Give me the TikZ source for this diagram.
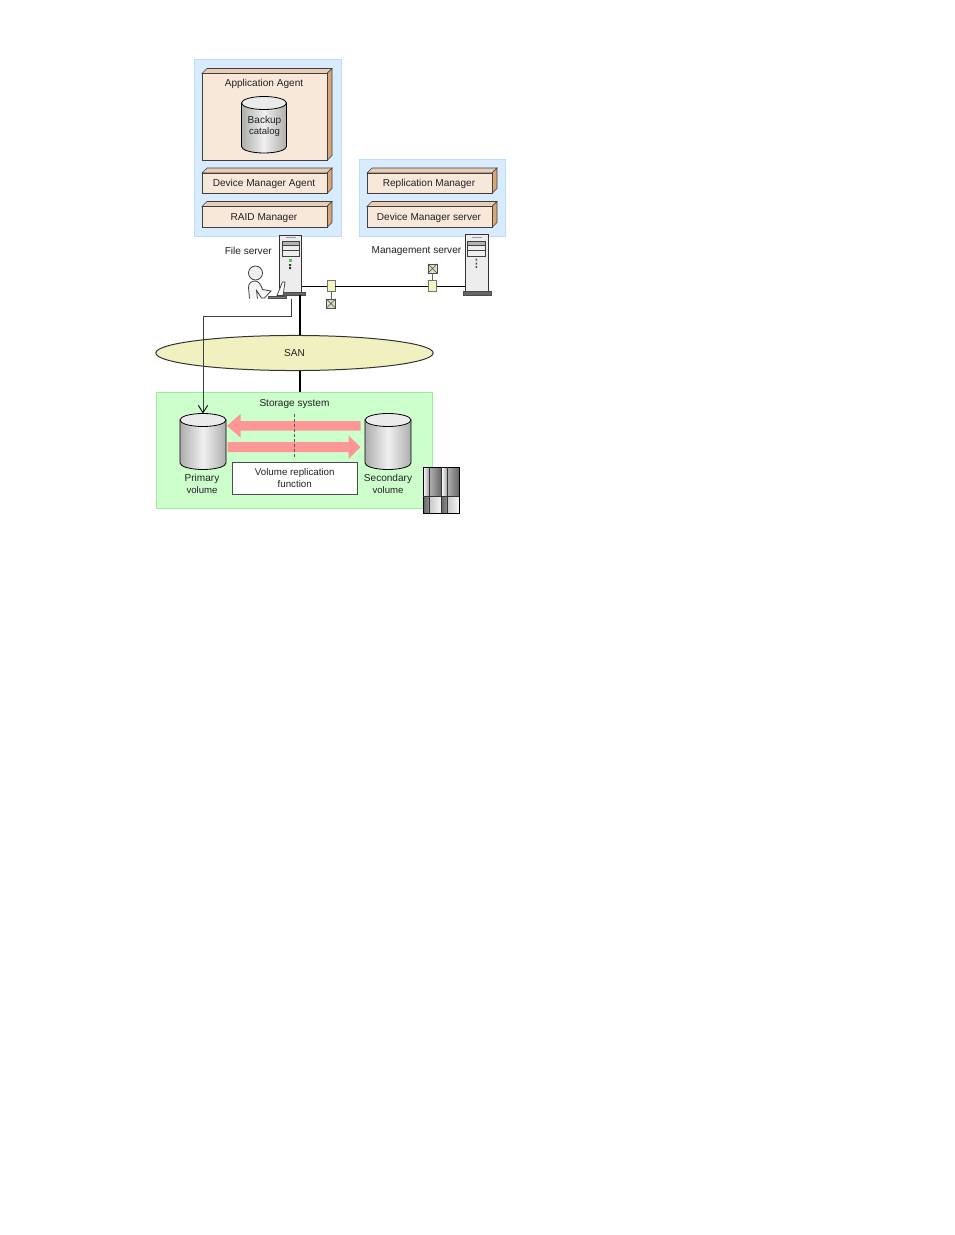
\documentclass[tikz,border=0pt]{standalone}
\usepackage{fontspec}
\setmainfont{Liberation Sans}
\usetikzlibrary{shapes.geometric,arrows.meta,calc}
\definecolor{zoneblue}{HTML}{D9ECFF}
\definecolor{zoneblueedge}{HTML}{BBDDFF}
\definecolor{zonegreen}{HTML}{CCFFCC}
\definecolor{zonegreenedge}{HTML}{99EE99}
\definecolor{boxfront}{HTML}{F8E8DA}
\definecolor{boxtop}{HTML}{E8CDB4}
\definecolor{boxside}{HTML}{D9A679}
\definecolor{sanfill}{HTML}{F0F0C0}
\definecolor{pinkarrow}{HTML}{FF9696}
\definecolor{hubfill}{HTML}{F5F5BE}
\definecolor{xfill}{HTML}{D8E0C0}
\definecolor{txt}{HTML}{222222}
\tikzset{
  x=0.75pt,y=-0.75pt,
  every node/.style={font=\fontsize{7.55}{9.2}\selectfont,text=txt,align=center,inner sep=0pt},
  zone/.style={draw=zoneblueedge,fill=zoneblue,line width=0.6pt},
  greenzone/.style={draw=zonegreenedge,fill=zonegreen,line width=0.6pt},
  front/.style={draw=black!75,fill=boxfront,line width=0.55pt},
  boxt/.style={draw=black!75,fill=boxtop,line width=0.45pt},
  boxs/.style={draw=black!75,fill=boxside,line width=0.45pt},
  cylbody/.style={draw=black,line width=0.6pt,left color=black!32,right color=black!32,middle color=black!6},
  cyltop/.style={draw=black,line width=0.6pt,fill=black!8},
  lan/.style={draw=black,line width=0.6pt},
  san/.style={draw=black!80,line width=0.75pt},
  thickline/.style={draw=black,line width=1.5pt},
  graylink/.style={draw=black!75,line width=0.65pt},
  hub/.style={draw=black!55,fill=hubfill,line width=0.5pt},
  tower/.style={draw=black!80,fill=black!7,line width=0.6pt},
  basep/.style={fill=black!60,draw=black!70,line width=0.3pt},
}
% box: name, x1, y1 (front top), x2, y2, label
\newcommand{\stackbox}[6]{%
  \path[boxt] (#2,#3) -- ++(5,-5) -- (#4+5,#3-5) -- (#4,#3) -- cycle;
  \path[boxs] (#4,#3) -- (#4+5,#3-5) -- (#4+5,#5-5) -- (#4,#5) -- cycle;
  \draw[front] (#2,#3) rectangle (#4,#5);
  \node (#1) at ({(#2+#4)/2-0.5},{(#3+#5)/2+1}) {#6};
}
% cylinder: name, cx, rx, ytop-ellipse-centre, ybottom-ellipse-centre
\newcommand{\mycyl}[5]{%
  \path[cylbody] (#2-#3,#4) -- (#2-#3,#5) arc[start angle=180,end angle=360,x radius=#3,y radius=-6.5] -- (#2+#3,#4) -- cycle;
  \draw[cyltop] (#2,#4) ellipse[x radius=#3,y radius=6.5];
  \coordinate (#1) at (#2,#4-6.5);
}
% X box
\newcommand{\xbox}[3]{%
  \node[draw=black!70,fill=xfill,line width=0.5pt,minimum width=6.6pt,minimum height=6.6pt] (#1) at (#2,#3) {};
  \draw[black!70,line width=0.4pt] (#1.north west) -- (#1.south east) (#1.north east) -- (#1.south west);
}
\begin{document}
\begin{tikzpicture}
\useasboundingbox (0.5,0.5) rectangle (954.5,1235.5);
\fill[white] (0.5,0.5) rectangle (954.5,1235.5);
% zones
\draw[zone] (194.5,59.5) rectangle (341.5,236.5);
\draw[zone] (359.5,159.5) rectangle (505.5,236.5);
% left stack
\stackbox{appagent}{202.5}{74}{327.5}{161}{}
\node (applabel) at (264.5,84.5) {Application Agent};
\stackbox{dmagent}{202.5}{173.5}{327.5}{194}{Device Manager Agent}
\stackbox{raid}{202.5}{207}{327.5}{228}{RAID Manager}
% right stack
\stackbox{repman}{367.5}{173.5}{492.5}{194}{Replication Manager}
\stackbox{dmserver}{367.5}{207}{492.5}{228}{Device Manager server}
% backup catalog
\mycyl{catalog}{264.5}{22.5}{103.5}{147}
\node (backup) at (265,121.5) {Backup};
\node[font=\fontsize{7.2}{9}\selectfont] (catlabel) at (265,133) {catalog};
% anchors for vertical thick lines
\coordinate (xsan) at (300.5,0);
% file server
\node[tower,minimum width=16.8pt,minimum height=43pt,anchor=north west] (fileserver) at (279.5,235) {};
\node[basep,minimum width=18.6pt,minimum height=2.6pt,anchor=north west] (fsbase) at (280.5,292) {};
\draw[black!75,fill=black!30,line width=0.4pt] (282.5,242) rectangle (299.5,246);
\draw[black!75,line width=0.4pt] (282.5,246) rectangle (299.5,257);
\draw[black!75,line width=0.4pt] (282.5,251) -- (299.5,251);
\draw[black!40,line width=0.5pt] (286,238) -- (296,238);
\fill[green!70!black!70] (289,259.5) rectangle (292,262.5);
\fill[black!80] (289.5,264.5) rectangle (291.5,266.5) (289.5,267.5) rectangle (291.5,269.5);
% management server
\node[tower,minimum width=17.3pt,minimum height=42.7pt,anchor=north west] (mgmtserver) at (465,234.5) {};
\node[basep,minimum width=21.6pt,minimum height=3pt,anchor=north west] (msbase) at (463,291.5) {};
\draw[black!75,fill=black!30,line width=0.4pt] (468,241.5) rectangle (486,245.5);
\draw[black!75,line width=0.4pt] (468,245.5) rectangle (486,256.5);
\draw[black!75,line width=0.4pt] (468,251) -- (486,251);
\draw[black!40,line width=0.5pt] (472,238) -- (482,238);
\fill[black!70] (476,259) rectangle (477.5,261) (476,263) rectangle (477.5,265) (476,266.5) rectangle (477.5,268.5);
% labels
\node[anchor=east] (fslabel) at (272.5,251.5) {File server};
\node[anchor=east] (mslabel) at (462,251.5) {Management server};
% LAN
\node[hub,minimum width=6pt,minimum height=7.8pt] (hub1) at (331.5,286.5) {};
\node[hub,minimum width=6pt,minimum height=7.8pt] (hub2) at (433,286.5) {};
\xbox{x1}{331.5}{304}
\xbox{x2}{433}{269}
\draw[lan] (fileserver.east |- hub1) -- (hub1);
\draw[lan] (hub1) -- (hub2);
\draw[lan] (hub2) -- (mgmtserver.west |- hub2);
\draw[black!60,line width=0.5pt] (hub1) -- (x1);
\draw[black!60,line width=0.5pt] (hub2) -- (x2);
% storage zone
\node[greenzone,minimum width=207.3pt,minimum height=87.3pt,anchor=north west] (storage) at (156.5,392.5) {};
% SAN
\node[ellipse,san,fill=sanfill,minimum width=208pt,minimum height=26.3pt] (sannet) at (295,353.5) {SAN};
\draw[thickline] (fsbase.south -| xsan) -- (sannet.north -| xsan);
\draw[thickline] (sannet.south -| xsan) -- (storage.north -| xsan);
% person
\node[circle,draw=black!80,fill=black!6,line width=0.55pt,minimum size=10.5pt] (head) at (256,273.5) {};
\draw[black!80,fill=black!4,line width=0.55pt] (250,299) -- (249,288) .. controls (249,283.5) and (252,281.5) .. (255.5,281.5) .. controls (259,281.5) and (261.5,285) .. (263,290) -- (271.5,291.5) -- (265,298.5) -- (262,298.5) -- (257,291) -- (258,299);
% laptop
\node[fill=black!50,draw=black!70,line width=0.3pt,minimum width=13.6pt,minimum height=2pt,anchor=north west] (laptop) at (268.5,296) {};
\draw[black!75,fill=white,line width=0.55pt] (277.5,296) -- (283,282.5) -- (285.5,282.5) -- (283.5,296) -- cycle;
% link to primary
\mycyl{primary}{203.5}{23}{420.5}{463.5}
\mycyl{secondary}{388.5}{23}{420.5}{463.5}
\draw[graylink,-{Straight Barb[length=5.5pt,width=7pt,black]}] (laptop.south -| 291.5,0) -- (291.5,317) -- (203.5,317) -- (primary);
\node (plabel) at (202.5,484.5) {Primary\\[-0.5pt]{\fontsize{7.2}{9}\selectfont volume}};
\node (slabel) at (388.5,484.5) {Secondary\\[-0.5pt]{\fontsize{7.2}{9}\selectfont volume}};
\node (sslabel) at (295,404.5) {Storage system};
% replication arrows
\coordinate (arrowLtip) at (227.5,426.3);
\coordinate (arrowRtip) at (361,447.5);
\fill[pinkarrow] (arrowLtip) -- (241,414.5) -- (241,421.5) -- (361,421.5) -- (361,431.2) -- (241,431.2) -- (241,438) -- cycle;
\fill[pinkarrow] (arrowRtip) -- (349,436) -- (349,442.5) -- (228,442.5) -- (228,452.5) -- (349,452.5) -- (349,459.5) -- cycle;
\draw[black!65,line width=0.8pt,dash pattern=on 2.4pt off 1.4pt] (295,414) -- (295,459);
% replication function box
\node[draw=black!70,fill=white,line width=0.6pt,minimum width=93.5pt,minimum height=24pt,anchor=north west,font=\fontsize{7.3}{9.2}\selectfont] (replbox) at (232.5,462) {Volume replication\\function};
% storage icon
\begin{scope}[line width=0.6pt]
\shade[left color=white,right color=black!35] (423.5,467.5) rectangle (429.5,497);
\shade[left color=black!30,right color=black!60] (429.5,467.5) rectangle (442,497);
\shade[left color=white,right color=black!35] (442,467.5) rectangle (447.5,497);
\shade[left color=black!30,right color=black!60] (447.5,467.5) rectangle (459.5,497);
\shade[left color=black!60,right color=black!45] (423.5,497) rectangle (429.5,513.5);
\shade[left color=black!22,right color=black!3] (429.5,497) rectangle (442,513.5);
\shade[left color=black!60,right color=black!45] (442,497) rectangle (447.5,513.5);
\shade[left color=black!22,right color=black!3] (447.5,497) rectangle (459.5,513.5);
\node[draw=black,line width=0.7pt,minimum width=27pt,minimum height=34.5pt,anchor=north west] (stricon) at (423.5,467.5) {};
\draw[black!80] (429.5,467.5) -- (429.5,513.5) (442,467.5) -- (442,513.5) (447.5,467.5) -- (447.5,513.5) (423.5,497) -- (459.5,497);
\end{scope}
\end{tikzpicture}
\end{document}
